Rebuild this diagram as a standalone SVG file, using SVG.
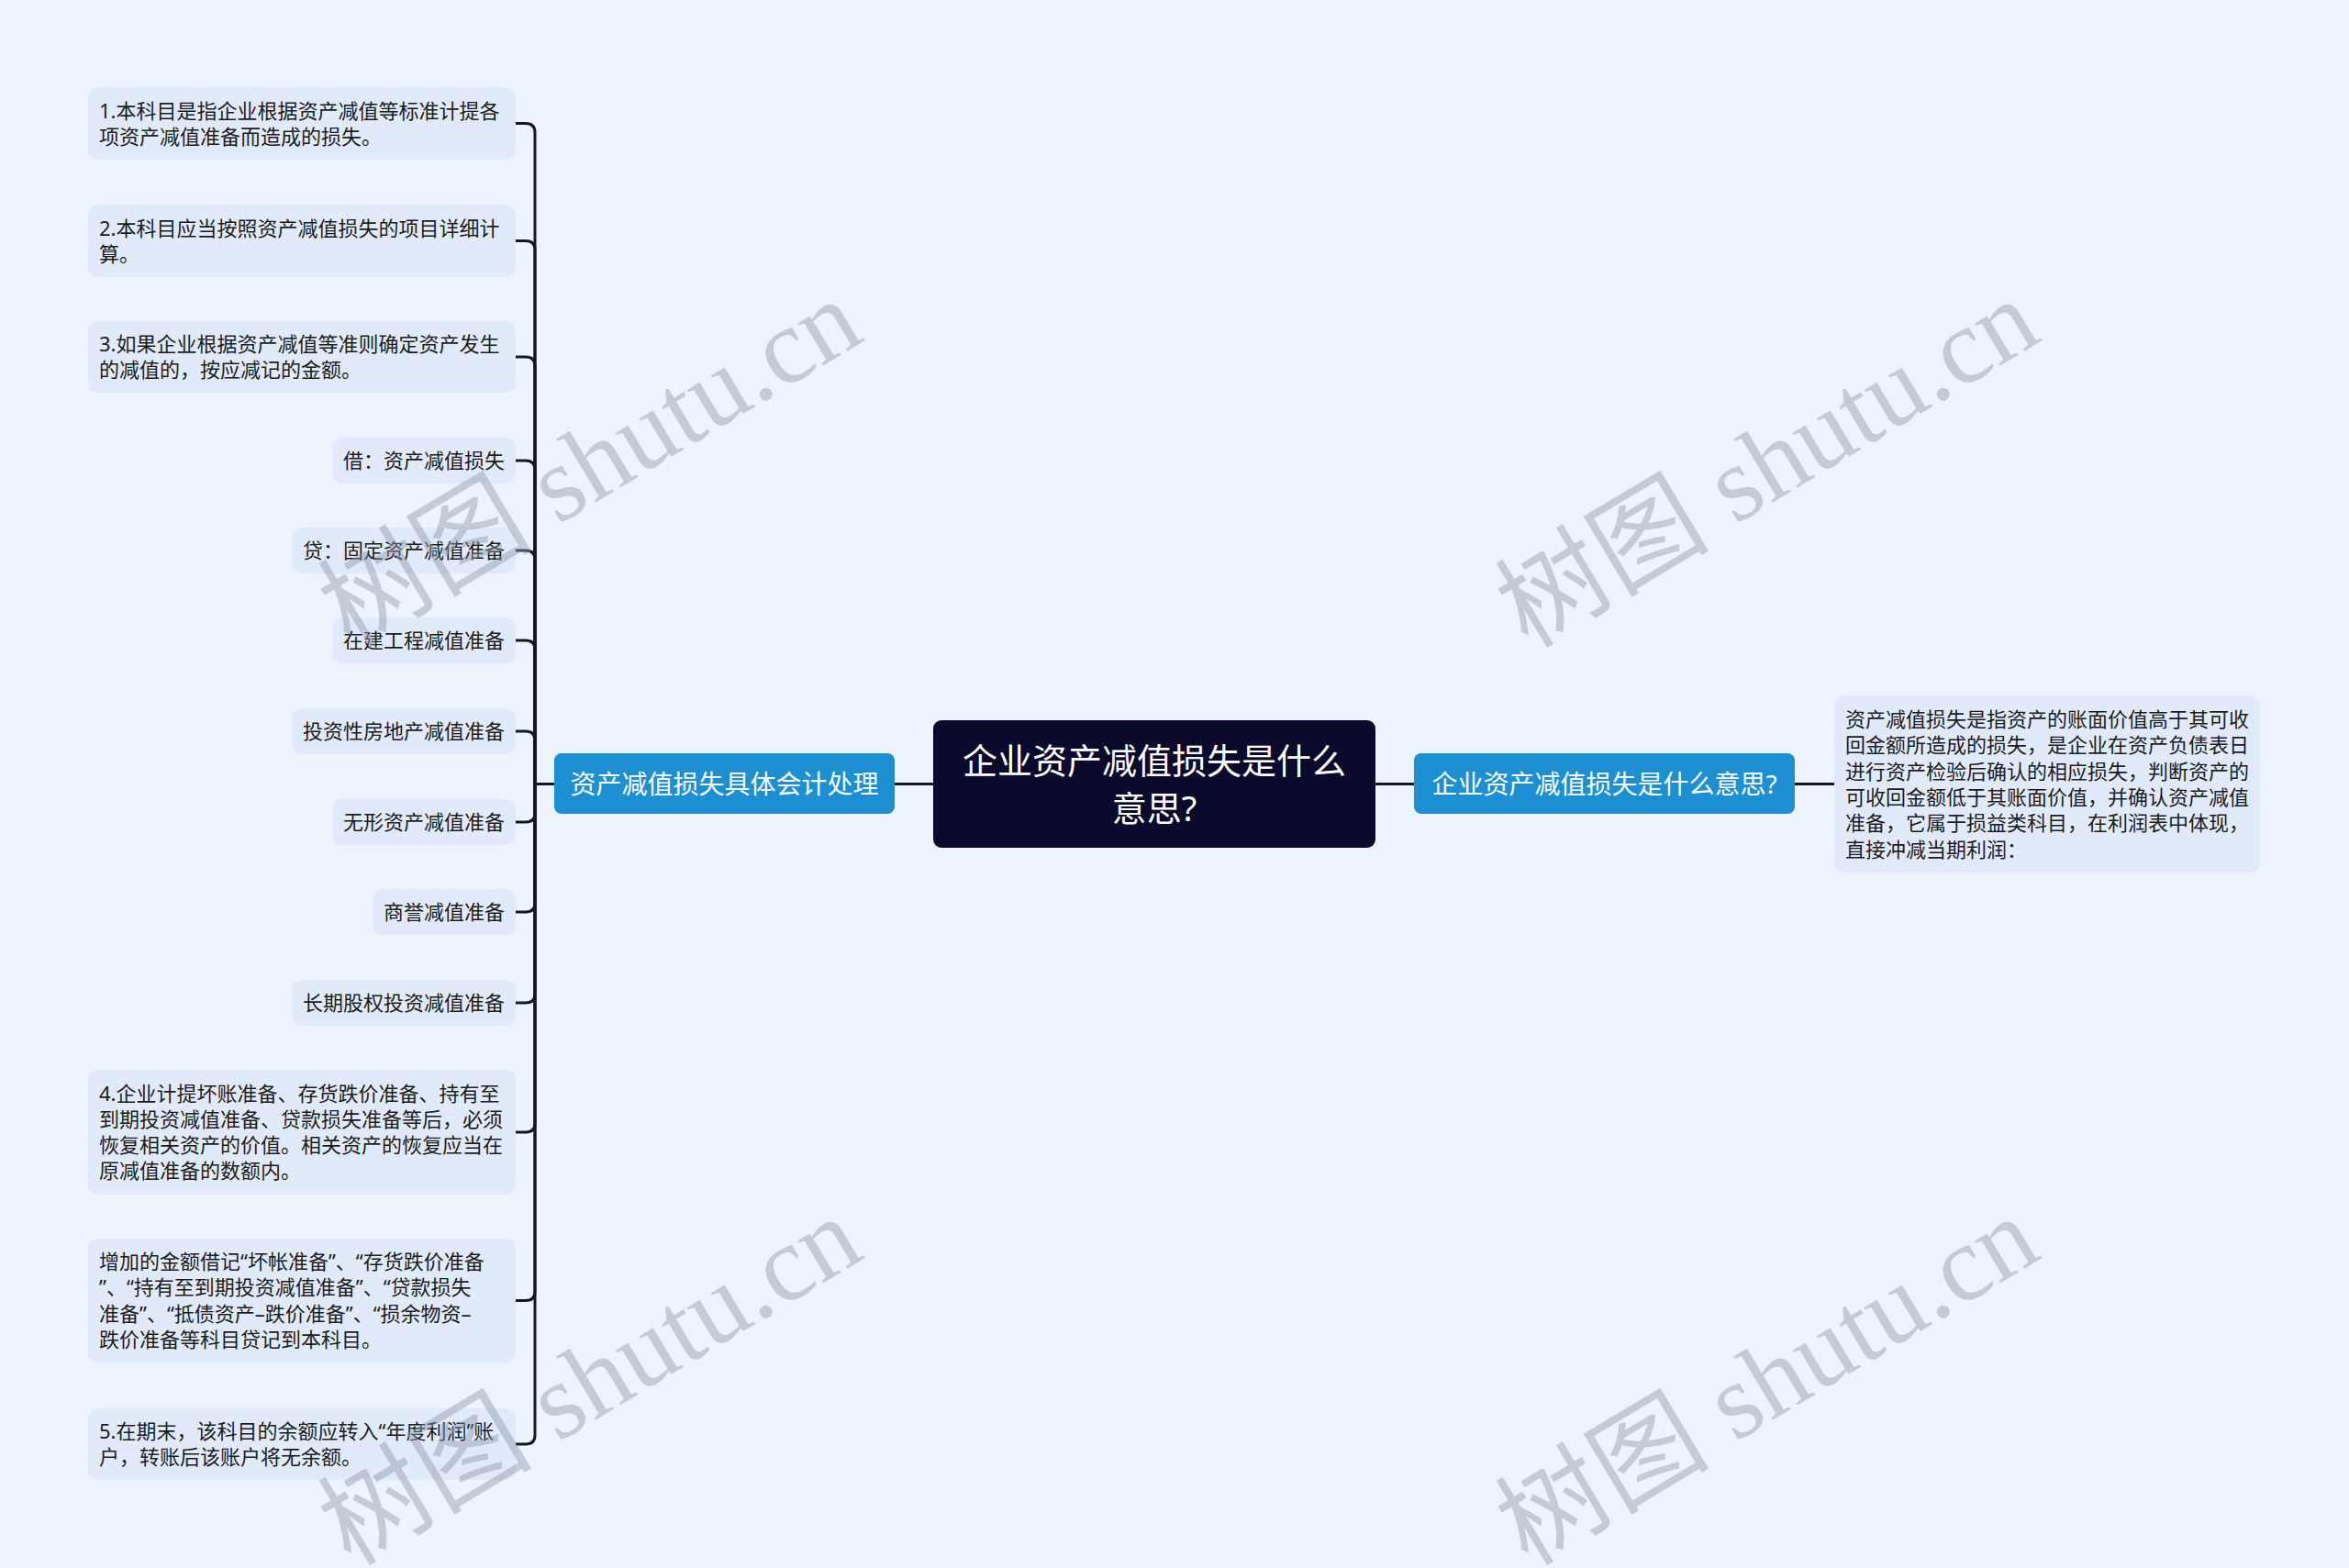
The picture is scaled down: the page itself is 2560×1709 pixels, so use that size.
<svg xmlns="http://www.w3.org/2000/svg" width="2560" height="1709" viewBox="0 0 2560 1709">
<style>
.bg{fill:#eef4fe}
.leaf rect{fill:#e1eafb}
.leaf text{font-family:"Noto Sans","Noto Sans CJK SC",sans-serif;font-size:22px;fill:#1c1c1c}
.branch rect{fill:#1c90d2}
.branch text{font-family:"Noto Sans","Noto Sans CJK SC",sans-serif;font-size:28px;fill:#ffffff;text-anchor:middle}
.root rect{fill:#0b0a2c}
.root text{font-family:"Noto Sans","Noto Sans CJK SC",sans-serif;font-size:38px;fill:#ffffff;text-anchor:middle}
.conn path{fill:none;stroke:#15142b;stroke-width:3;stroke-linecap:round}
.wm{font-family:"Liberation Serif","Noto Sans CJK SC",serif;font-size:117px;fill:#8f99ab;fill-opacity:0.45}
.end{text-anchor:end}
</style>
<rect class="bg" x="0" y="0" width="2560" height="1709"/>

<g id="connectors" class="conn">
<path d="M1017,854.5 H975"/>
<path d="M1499,854.5 H1541"/>
<path d="M1956,854.5 H1999"/>
<path d="M604,854.5 H583"/>
<path d="M583,854.5 V144.5 Q583,134.5 573,134.5 H562"/>
<path d="M583,854.5 V272.5 Q583,262.5 573,262.5 H562"/>
<path d="M583,854.5 V399 Q583,389 573,389 H562"/>
<path d="M583,854.5 V512 Q583,502 573,502 H562"/>
<path d="M583,854.5 V610 Q583,600 573,600 H562"/>
<path d="M583,854.5 V708 Q583,698 573,698 H562"/>
<path d="M583,854.5 V807 Q583,797 573,797 H562"/>
<path d="M583,854.5 V886 Q583,896 573,896 H562"/>
<path d="M583,854.5 V984 Q583,994 573,994 H562"/>
<path d="M583,854.5 V1083 Q583,1093 573,1093 H562"/>
<path d="M583,854.5 V1224 Q583,1234 573,1234 H562"/>
<path d="M583,854.5 V1407.5 Q583,1417.5 573,1417.5 H562"/>
<path d="M583,854.5 V1564 Q583,1574 573,1574 H562"/>
</g>

<g id="root" class="root">
<rect x="1017" y="785" width="482" height="139" rx="9"/>
<text x="1258" y="843">企业资产减值损失是什么</text>
<text x="1258" y="895">意思?</text>
</g>

<g id="branch-left" class="branch">
<rect x="604" y="821" width="371" height="66" rx="8"/>
<text x="789.5" y="865">资产减值损失具体会计处理</text>
</g>

<g id="branch-right" class="branch">
<rect x="1541" y="821" width="415" height="66" rx="8"/>
<text x="1748.5" y="865">企业资产减值损失是什么意思?</text>
</g>

<g id="leaf-right" class="leaf">
<rect x="1999" y="758" width="464" height="193" rx="10"/>
<text x="2011" y="792">资产减值损失是指资产的账面价值高于其可收</text>
<text x="2011" y="820.3">回金额所造成的损失，是企业在资产负债表日</text>
<text x="2011" y="848.6">进行资产检验后确认的相应损失，判断资产的</text>
<text x="2011" y="876.9">可收回金额低于其账面价值，并确认资产减值</text>
<text x="2011" y="905.2">准备，它属于损益类科目，在利润表中体现，</text>
<text x="2011" y="933.5">直接冲减当期利润：</text>
</g>

<g id="leaf-1" class="leaf">
<rect x="96" y="95" width="466" height="79" rx="10"/>
<text x="108" y="128.5">1.本科目是指企业根据资产减值等标准计提各</text>
<text x="108" y="156.8">项资产减值准备而造成的损失。</text>
</g>
<g id="leaf-2" class="leaf">
<rect x="96" y="223" width="466" height="79" rx="10"/>
<text x="108" y="256.5">2.本科目应当按照资产减值损失的项目详细计</text>
<text x="108" y="284.8">算。</text>
</g>
<g id="leaf-3" class="leaf">
<rect x="96" y="350" width="466" height="78" rx="10"/>
<text x="108" y="383">3.如果企业根据资产减值等准则确定资产发生</text>
<text x="108" y="411.3">的减值的，按应减记的金额。</text>
</g>
<g id="leaf-jie" class="leaf">
<rect x="362" y="477" width="200" height="50" rx="10"/>
<text class="end" x="550" y="510">借：资产减值损失</text>
</g>
<g id="leaf-dai" class="leaf">
<rect x="318" y="575" width="244" height="50" rx="10"/>
<text class="end" x="550" y="608">贷：固定资产减值准备</text>
</g>
<g id="leaf-zaijian" class="leaf">
<rect x="362" y="673" width="200" height="50" rx="10"/>
<text class="end" x="550" y="706">在建工程减值准备</text>
</g>
<g id="leaf-touzi" class="leaf">
<rect x="318" y="772" width="244" height="50" rx="10"/>
<text class="end" x="550" y="805">投资性房地产减值准备</text>
</g>
<g id="leaf-wuxing" class="leaf">
<rect x="362" y="871" width="200" height="50" rx="10"/>
<text class="end" x="550" y="904">无形资产减值准备</text>
</g>
<g id="leaf-shangyu" class="leaf">
<rect x="406" y="969" width="156" height="50" rx="10"/>
<text class="end" x="550" y="1002">商誉减值准备</text>
</g>
<g id="leaf-changqi" class="leaf">
<rect x="318" y="1068" width="244" height="50" rx="10"/>
<text class="end" x="550" y="1101">长期股权投资减值准备</text>
</g>
<g id="leaf-4" class="leaf">
<rect x="96" y="1166" width="466" height="136" rx="10"/>
<text x="108" y="1199.5">4.企业计提坏账准备、存货跌价准备、持有至</text>
<text x="108" y="1227.8">到期投资减值准备、贷款损失准备等后，必须</text>
<text x="108" y="1256.1">恢复相关资产的价值。相关资产的恢复应当在</text>
<text x="108" y="1284.4">原减值准备的数额内。</text>
</g>
<g id="leaf-zengjia" class="leaf">
<rect x="96" y="1350" width="466" height="135" rx="10"/>
<text x="108" y="1383">增加的金额借记“坏帐准备”、“存货跌价准备</text>
<text x="108" y="1411.3">”、“持有至到期投资减值准备”、“贷款损失</text>
<text x="108" y="1439.6">准备”、“抵债资产–跌价准备”、“损余物资–</text>
<text x="108" y="1467.9">跌价准备等科目贷记到本科目。</text>
</g>
<g id="leaf-5" class="leaf">
<rect x="96" y="1535" width="466" height="78" rx="10"/>
<text x="108" y="1568">5.在期末，该科目的余额应转入“年度利润”账</text>
<text x="108" y="1596.3">户，转账后该账户将无余额。</text>
</g>

<g id="watermarks">
<text class="wm" transform="translate(382,708) rotate(-31)">树图 shutu.cn</text>
<text class="wm" transform="translate(1665,708) rotate(-31)">树图 shutu.cn</text>
<text class="wm" transform="translate(382,1708) rotate(-31)">树图 shutu.cn</text>
<text class="wm" transform="translate(1665,1708) rotate(-31)">树图 shutu.cn</text>
</g>
</svg>
